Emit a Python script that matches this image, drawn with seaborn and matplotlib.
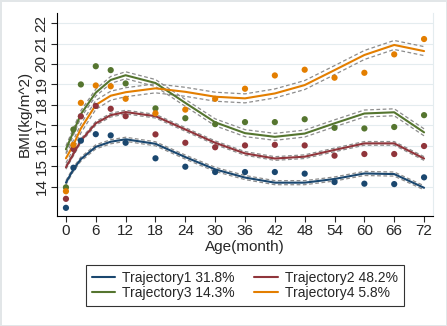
import numpy as np
import pandas as pd
import matplotlib
matplotlib.use('Agg')
import matplotlib.pyplot as plt
import seaborn as sns

# months where the trajectories were evaluated / observed
months = [0, 1.5, 3, 6, 9, 12, 18, 24, 30, 36, 42, 48, 54, 60, 66, 72]

labels = ['Trajectory1 31.8%', 'Trajectory2 48.2%', 'Trajectory3 14.3%', 'Trajectory4 5.8%']
colors = ['#1a476f', '#90353b', '#55752f', '#e37e00']

# fitted BMI trajectories
fit1 = [14.2, 14.85, 15.35, 15.95, 16.2, 16.32, 16.1, 15.45, 14.85, 14.45, 14.2, 14.2, 14.38, 14.65, 14.62, 13.95]
fit2 = [14.95, 15.6, 16.25, 17.1, 17.5, 17.65, 17.45, 16.8, 16.15, 15.63, 15.38, 15.47, 15.8, 16.12, 16.12, 15.38]
fit3 = [15.83, 16.69, 17.55, 18.6, 19.22, 19.45, 19.07, 18.1, 17.15, 16.62, 16.44, 16.6, 17.1, 17.58, 17.64, 16.66]
fit4 = [15.39, 16.05, 16.85, 18.0, 18.45, 18.62, 18.81, 18.64, 18.4, 18.32, 18.56, 18.97, 19.7, 20.44, 20.93, 20.63]

# half width of the confidence band for each trajectory
ci_half = [0.1, 0.09, 0.17, 0.22]

# observed mean BMI
obs1 = [12.97, 14.93, 16.25, 16.57, 16.51, 16.15, 15.39, 14.98, 14.72, 14.72, 14.72, 14.64, 14.23, 14.15, 14.13, 14.46]
obs2 = [13.41, 15.85, 17.44, 17.95, 17.81, 17.45, 16.56, 16.15, 15.93, 16.02, 16.05, 16.02, 15.52, 15.6, 15.6, 15.99]
obs3 = [13.97, 16.8, 19.0, 19.89, 19.7, 19.05, 17.83, 17.35, 17.06, 17.16, 17.16, 17.3, 16.88, 16.85, 16.92, 17.5]
obs4 = [13.78, 16.05, 18.1, 18.95, 18.91, 18.3, 17.59, 17.77, 18.3, 18.79, 19.44, 19.72, 19.33, 19.57, 20.47, 21.22]

fits = [fit1, fit2, fit3, fit4]
obss = [obs1, obs2, obs3, obs4]

rows = []
for lab, f, o, h in zip(labels, fits, obss, ci_half):
    for m, fv, ov in zip(months, f, o):
        rows.append({'traj': lab, 'month': m, 'fit': fv, 'obs': ov, 'lo': fv - h, 'hi': fv + h})
df = pd.DataFrame(rows)

sns.set_style('white')
plt.rcParams['font.family'] = ['Liberation Sans', 'DejaVu Sans']

fig = plt.figure(figsize=(4.47, 3.26), dpi=100)
ax = fig.add_axes([0.1275, 0.338, 0.8412, 0.622])

pal = dict(zip(labels, colors))
grey = dict(zip(labels, ['#8c8c8c'] * 4))

sns.lineplot(data=df, x='month', y='lo', hue='traj', palette=grey, ax=ax, legend=False,
             linewidth=0.9, linestyle=(0, (3, 2)), estimator=None)
sns.lineplot(data=df, x='month', y='hi', hue='traj', palette=grey, ax=ax, legend=False,
             linewidth=0.9, linestyle=(0, (3, 2)), estimator=None)
sns.lineplot(data=df, x='month', y='fit', hue='traj', palette=pal, ax=ax, legend=False,
             linewidth=1.5, estimator=None)
sns.scatterplot(data=df, x='month', y='obs', hue='traj', palette=pal, ax=ax, legend=False,
                s=20, linewidth=0, zorder=5)

ax.set_xlim(-1.8, 73.8)
ax.set_ylim(12.58, 22.49)
ax.set_xticks(range(0, 73, 6))
ax.set_yticks(range(14, 23))
ax.tick_params(axis='both', labelsize=11, length=4, width=0.8, direction='out',
               bottom=True, left=True, pad=2)
for t in ax.get_yticklabels():
    t.set_rotation(90)
    t.set_va('center')
ax.grid(axis='y', color='#e4ecef', linewidth=0.8)
ax.set_axisbelow(True)
ax.spines['top'].set_visible(False)
ax.spines['right'].set_color('#e4ecef')
ax.spines['left'].set_color('black')
ax.spines['bottom'].set_color('black')
ax.spines['left'].set_linewidth(0.8)
ax.spines['bottom'].set_linewidth(0.8)
ax.set_xlabel('Age(month)', fontsize=11, labelpad=1)
ax.set_ylabel('BMI(kg/m^2)', fontsize=11, labelpad=2)

# matplotlib fills legend columns first, so reorder to get rows 1-2 / 3-4
order = [0, 2, 1, 3]
handles = [plt.Line2D([], [], color=colors[i], linewidth=1.5) for i in order]
leg = fig.legend(handles, [labels[i] for i in order], loc='upper center',
                 bbox_to_anchor=(0.548, 0.187), ncol=2, borderaxespad=0,
                 fontsize=10, frameon=True, fancybox=False, edgecolor='black',
                 handlelength=1.7, handletextpad=0.5, columnspacing=1.4,
                 labelspacing=0.12, borderpad=0.4)
leg.get_frame().set_linewidth(0.8)

fig.patch.set_edgecolor('#e2e6e8')
fig.patch.set_linewidth(2)

fig.savefig('out.png', dpi=100)
